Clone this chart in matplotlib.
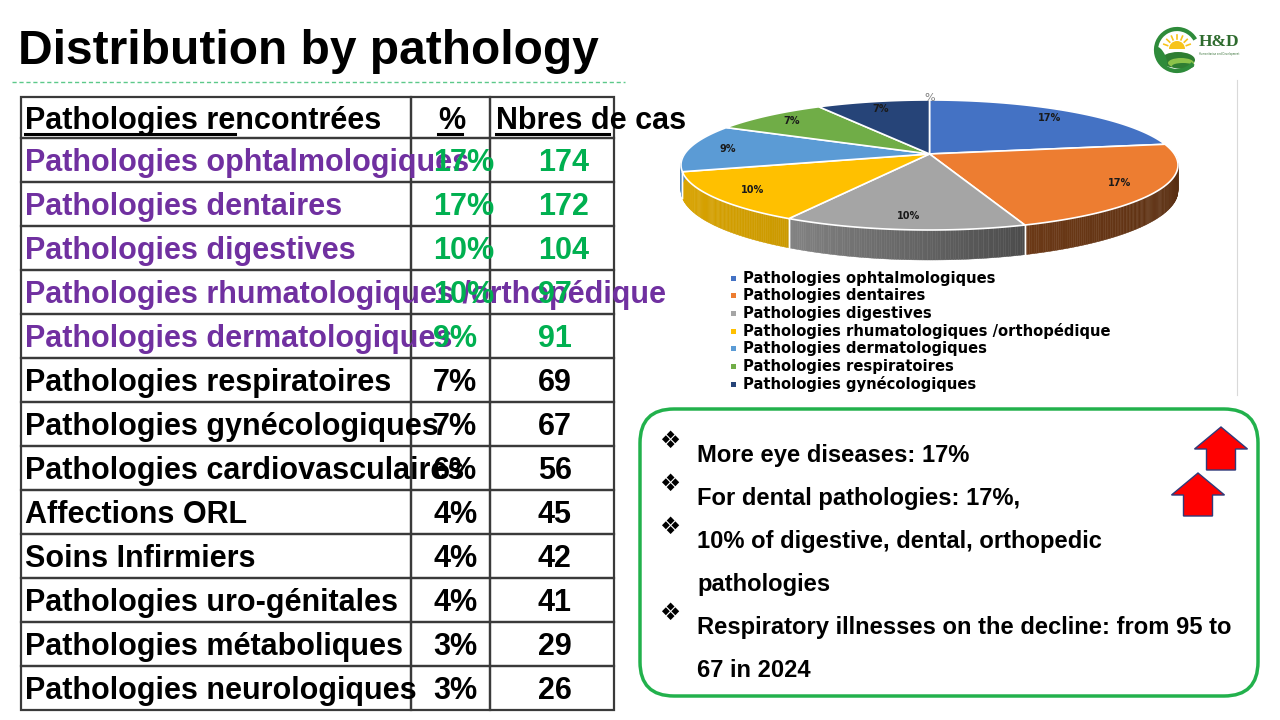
import numpy as np
import matplotlib.pyplot as plt
from matplotlib import patches
from matplotlib import colors as mcolors

# table data
pathologies = [
    "Pathologies ophtalmologiques",
    "Pathologies dentaires",
    "Pathologies digestives",
    "Pathologies rhumatologiques /orthopédique",
    "Pathologies dermatologiques",
    "Pathologies respiratoires",
    "Pathologies gynécologiques",
    "Pathologies cardiovasculaires",
    "Affections ORL",
    "Soins Infirmiers",
    "Pathologies uro-génitales",
    "Pathologies métaboliques",
    "Pathologies neurologiques",
]
percents = ["17%", "17%", "10%", "10%", "9%", "7%", "7%", "6%", "4%", "4%", "4%", "3%", "3%"]
cases = [174, 172, 104, 97, 91, 69, 67, 56, 45, 42, 41, 29, 26]
n_highlight = 5

# pie data (first seven rows of the table)
pie_labels = pathologies[:7]
pie_values = cases[:7]
pie_pct = percents[:7]
pie_colors = ["#4472C4", "#ED7D31", "#A5A5A5", "#FFC000", "#5B9BD5", "#70AD47", "#264478"]

bullets = [
    ["More eye diseases: 17%"],
    ["For dental pathologies: 17%,"],
    ["10% of digestive, dental, orthopedic", "pathologies"],
    ["Respiratory illnesses on the decline: from 95 to", "67 in 2024"],
]

FONT = "Liberation Sans"
PURPLE = "#7030A0"
GREEN = "#00B050"

fig = plt.figure(figsize=(12.8, 7.2), dpi=100)
ax = fig.add_axes([0, 0, 1, 1])
ax.set_xlim(0, 1280)
ax.set_ylim(720, 0)
ax.axis("off")

# title
ax.text(18, 64, "Distribution by pathology", fontsize=34.5, fontweight="bold",
        family=FONT, va="baseline", ha="left")
ax.plot([12, 625], [82, 82], ls=(0, (3, 2)), color="#5CC98A", lw=1)

# ---- table ----
x0, x1, x2, x3 = 21, 411, 490, 614
top, head_h, row_h = 97, 41, 44
cell_kw = dict(fill=False, ec="#3a3a3a", lw=1.6)
for xa, xb in [(x0, x1), (x1, x2), (x2, x3)]:
    ax.add_patch(patches.Rectangle((xa, top), xb - xa, head_h, **cell_kw))
    for i in range(len(pathologies)):
        y = top + head_h + i * row_h
        ax.add_patch(patches.Rectangle((xa, y), xb - xa, row_h, **cell_kw))

fs = 22
hb = top + 32
ax.text(25, hb, "Pathologies rencontrées", fontsize=fs, fontweight="bold", family=FONT, va="baseline")
ax.plot([25, 235], [hb + 5, hb + 5], color="black", lw=2.2)
ax.text(438, hb, "%", fontsize=fs, fontweight="bold", family=FONT, va="baseline")
ax.plot([438, 462], [hb + 5, hb + 5], color="black", lw=2.2)
ax.text(496, hb, "Nbres de cas", fontsize=fs, fontweight="bold", family=FONT, va="baseline")
ax.plot([496, 609], [hb + 5, hb + 5], color="black", lw=2.2)

for i, (name, pct, n) in enumerate(zip(pathologies, percents, cases)):
    yb = top + head_h + i * row_h + 33
    c_name = PURPLE if i < n_highlight else "black"
    c_val = GREEN if i < n_highlight else "black"
    ax.text(25, yb, name, fontsize=fs, fontweight="bold", family=FONT, va="baseline", color=c_name)
    ax.text(433, yb, pct, fontsize=fs, fontweight="bold", family=FONT, va="baseline", color=c_val)
    ax.text(538, yb, str(n), fontsize=fs, fontweight="bold", family=FONT, va="baseline", color=c_val)

# ---- 3D pie (simple perspective projection of a tilted disc) ----
k = 0.17                      # perspective strength
box_x, box_y = (681, 1178), (100, 230)   # screen box of the top face
depth = 30


def proj(r, t):
    a = np.radians(t)
    w = 1 + k * r * np.sin(a)
    return r * np.cos(a) / w, r * np.sin(a) / w


_grid = np.linspace(0, 360, 721)
_px, _py = proj(1.0, _grid)
_sx = (box_x[1] - box_x[0]) / (_px.max() - _px.min())
_sy = (box_y[1] - box_y[0]) / (_py.max() - _py.min())


def screen(r, t):
    px, py = proj(r, t)
    return (box_x[0] + (px - _px.min()) * _sx, box_y[0] + (_py.max() - py) * _sy)


def wall(t):
    a = np.radians(t)
    return depth * (1 - k) / (1 + k * np.sin(a))


def shade(col, f):
    rgb = np.array(mcolors.to_rgb(col))
    return tuple(np.clip(rgb * f, 0, 1))


vals = np.array(pie_values, dtype=float)
cum = np.concatenate([[0], np.cumsum(vals)]) / vals.sum() * 360
starts = 90 - cum[:-1]
ends = 90 - cum[1:]
apex = screen(0, 0)

# side walls (front half)
for a0, a1, col in zip(starts, ends, pie_colors):
    lo, hi = max(a1, -180), min(a0, 0)
    if hi <= lo:
        continue
    ts = np.linspace(lo, hi, int((hi - lo) * 2) + 2)
    for ta, tb in zip(ts[:-1], ts[1:]):
        xa, ya = screen(1, ta)
        xb, yb = screen(1, tb)
        f = np.interp((ta + tb) / 2, [-180, -120, -70, 0], [0.88, 0.8, 0.45, 0.36])
        c = shade(col, f)
        ax.add_patch(patches.Polygon([(xa, ya), (xb, yb), (xb, yb + wall(tb)), (xa, ya + wall(ta))],
                                     closed=True, fc=c, ec=c, lw=0.3))
    for t in (lo, hi):
        if -179 < t < -1:
            xa, ya = screen(1, t)
            ax.plot([xa, xa], [ya, ya + wall(t)], color="white", lw=1)

# top faces
for a0, a1, col in zip(starts, ends, pie_colors):
    ts = np.linspace(a0, a1, 80)
    pts = [apex] + [screen(1, t) for t in ts]
    ax.add_patch(patches.Polygon(pts, closed=True, fc=col, ec="white", lw=1.2))

# labels on slices
for a0, a1, lab in zip(starts, ends, pie_pct):
    lx_, ly_ = screen(0.84, (a0 + a1) / 2)
    ax.text(lx_, ly_, lab, fontsize=7, fontweight="bold", color="#1a1a1a",
            ha="center", va="center")
ax.text(apex[0], 98, "%", fontsize=8, color="#7f7f7f", ha="center", va="center")

# legend
for i, (lab, col) in enumerate(zip(pie_labels, pie_colors)):
    y = 278 + i * 17.7
    ax.add_patch(patches.Rectangle((731, y - 2.5), 5, 5, fc=col, ec="none"))
    ax.text(743, y, lab, fontsize=10.6, fontweight="bold", family="DejaVu Sans",
            va="center", ha="left", color="black")

ax.plot([1237, 1237], [80, 395], color="#d9d9d9", lw=0.8)

# ---- text box ----
ax.add_patch(patches.FancyBboxPatch((640, 409), 618, 287,
                                    boxstyle="round,pad=0,rounding_size=34",
                                    fc="white", ec="#22B14C", lw=2.5))
line_y = 462
for lines in bullets:
    ax.text(659, line_y - 21, "\u2756", fontsize=17, family="DejaVu Sans",
            va="center", ha="left", color="black")
    for ln in lines:
        ax.text(697, line_y, ln, fontsize=17.1, fontweight="bold", family=FONT,
                va="baseline", ha="left")
        line_y += 43


def up_arrow(tx, ty, head_w, head_h, shaft_w, total_h):
    pts = [(tx, ty), (tx + head_w / 2, ty + head_h), (tx + shaft_w / 2, ty + head_h),
           (tx + shaft_w / 2, ty + total_h), (tx - shaft_w / 2, ty + total_h),
           (tx - shaft_w / 2, ty + head_h), (tx - head_w / 2, ty + head_h)]
    ax.add_patch(patches.Polygon(pts, closed=True, fc="#FF0000", ec="#2F3A7A", lw=1))


up_arrow(1221, 427, 53, 22, 29, 43)
up_arrow(1198, 473, 53, 22, 29, 43)

# ---- logo ----
lx, ly = 1177, 50
ax.add_patch(patches.Circle((lx, ly), 21, fc="white", ec="none"))
ax.add_patch(patches.Wedge((lx, ly - 1), 8, 180, 360, fc="#F7C41B", ec="none"))
for t in np.linspace(200, 340, 7):
    r = np.radians(t)
    ax.plot([lx + 10 * np.cos(r), lx + 14 * np.cos(r)],
            [ly - 1 + 10 * np.sin(r), ly - 1 + 14 * np.sin(r)], color="#F7C41B", lw=1.2)
ax.add_patch(patches.Ellipse((lx + 1, ly + 10), 34, 16, fc="#2E7D32", ec="none"))
ax.add_patch(patches.Ellipse((lx + 4, ly + 13), 26, 10, fc="#8BC34A", ec="none"))
ax.add_patch(patches.Ellipse((lx + 6, ly + 16), 22, 6, fc="#2E7D32", ec="none"))
ax.add_patch(patches.Arc((lx, ly), 42, 42, theta1=40, theta2=330, color="#2E8B3A", lw=3))
ax.add_patch(patches.Ellipse((lx - 16, ly + 7), 9, 22, angle=-25, fc="#2E8B3A", ec="none"))
ax.text(1199, 42, "H&D", fontsize=12.5, fontweight="bold", family="Liberation Serif",
        color="#2E6B2E", va="center", ha="left")
ax.text(1199, 54, "Humanitarian and Development", fontsize=1.8, color="#2E6B2E",
        va="center", ha="left")

fig.savefig("out.png", dpi=100)
